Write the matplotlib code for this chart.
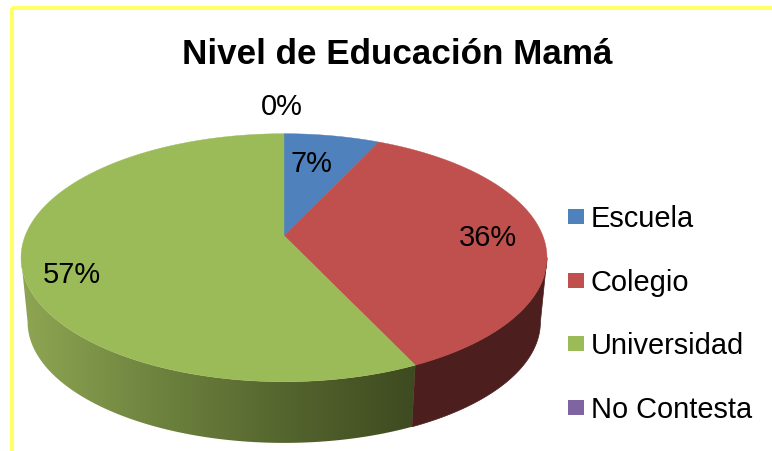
import numpy as np
import matplotlib
matplotlib.use("Agg")
import matplotlib.pyplot as plt
from matplotlib.patches import Polygon, Rectangle

plt.rcParams["font.family"] = ["Liberation Sans", "DejaVu Sans"]

categorias = ["Escuela", "Colegio", "Universidad", "No Contesta"]
valores = [7, 36, 57, 0]
etiquetas = ["7%", "36%", "57%", "0%"]
colores = ["#4F81BD", "#C0504D", "#9BBB59", "#8064A2"]

titulo = "Nivel de Educación Mamá"

# the pie is in perspective, so the apex is not at the middle of the ellipse
cx, cy = 284, 236.7
A, H, k = 258.8, 120.1, 0.1774


def borde(t):
    u, v = np.sin(t), np.cos(t)
    w = 1 + k * v
    return cx + A * u / w, cy - H * v / w


def abajo(x, y):
    return cx + (x - cx) * 0.975, 323 + (y - 258.7) * 0.975


def lado(t):
    x, y = borde(t)
    xb, yb = abajo(x, y)
    return np.r_[x, xb[::-1]], np.r_[y, yb[::-1]]


fig = plt.figure(figsize=(7.72, 4.52), dpi=100)
ax = fig.add_axes([0, 0, 1, 1])
ax.axis("off")

# yellow frame
ax.add_patch(Rectangle((11.6, 9), 900, 900, fill=False, ec="#FFFF66", lw=2.9))

fracs = np.cumsum([0] + valores) / sum(valores) * 2 * np.pi

# side of the pie runs between the two widest points of the rim
t_ini = np.arccos(-k)
t_fin = 2 * np.pi - t_ini

# red side, flat dark colour
t_rojo = np.linspace(t_ini, fracs[2], 120)
xs, ys = lado(t_rojo)
ax.add_patch(Polygon(np.c_[xs, ys], fc="#4C1F1E", ec="#4C1F1E", lw=0.5, zorder=2))

# green side, light on the left and dark towards the red slice
t_verde = np.linspace(fracs[2], t_fin, 300)
xs, ys = lado(t_verde)
pv = Polygon(np.c_[xs, ys], fc="none", ec="none", zorder=2)
ax.add_patch(pv)
grad = matplotlib.colors.LinearSegmentedColormap.from_list(
    "verde", ["#8EA653", "#6F843F", "#55652E", "#3E4A20"])
im = ax.imshow(np.linspace(0, 1, 256).reshape(1, -1), cmap=grad, extent=(21, 417, 452, 200),
               aspect="auto", zorder=2)
im.set_clip_path(pv)
ax.set_xlim(0, 772)
ax.set_ylim(452, 0)

# top face
for i in range(3):
    t = np.linspace(fracs[i], fracs[i + 1], 200)
    x, y = borde(t)
    ax.add_patch(Polygon(np.c_[np.r_[cx, x], np.r_[cy, y]], fc=colores[i], ec=colores[i],
                         lw=0.3, zorder=3))

ax.text(397, 54, titulo, fontsize=25.2, fontweight="bold", color="black", ha="center", va="center", zorder=5)

pos_etiquetas = [(311, 164), (488, 238), (72, 275), (282, 107)]
for e, (xe, ye) in zip(etiquetas, pos_etiquetas):
    ax.text(xe, ye, e, fontsize=20.9, color="black", ha="center", va="center", zorder=5)

# legend
for c, n, yl in zip(colores, categorias, [217, 281, 344, 408]):
    ax.add_patch(Rectangle((568, yl - 7.5), 15.5, 15, fc=c, ec="none", zorder=5))
    ax.text(591, yl + 2, n, fontsize=20.9, color="black", ha="left", va="center", zorder=5)

fig.savefig("out.png", dpi=100)
